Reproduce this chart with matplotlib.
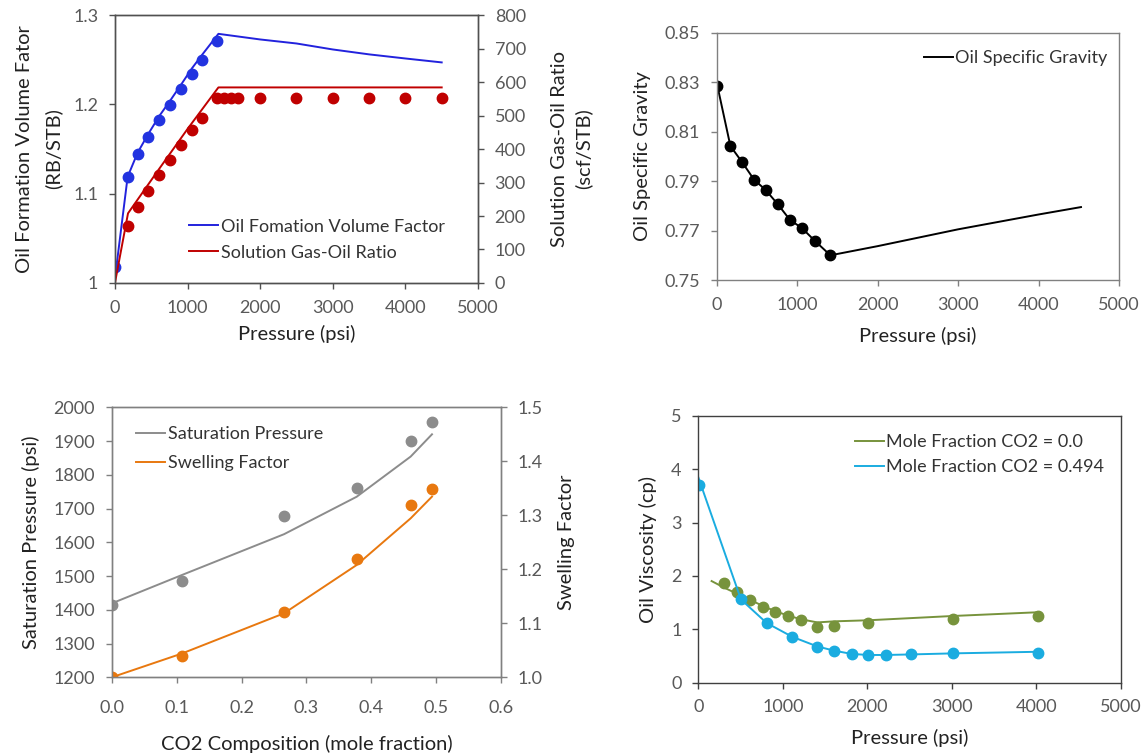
import numpy as np
import matplotlib
matplotlib.use("Agg")
import matplotlib.pyplot as plt

plt.rcParams['font.family'] = ['Lato', 'DejaVu Sans']

TICK_GRAY = '#595959'
SPINE = '#505050'
LABEL_FS = 14.5
TICK_FS = 13
LEG_FS = 13

# ---------------------------------------
# Panel 1: Bo and Rs vs pressure
# ---------------------------------------
bo_p = [0, 175, 313, 460, 611, 759, 910, 1057, 1205, 1402]
bo_val = [1.018, 1.119, 1.144, 1.164, 1.183, 1.199, 1.217, 1.234, 1.250, 1.271]
bo_line_p = [0, 175, 313, 460, 611, 759, 910, 1057, 1205, 1425, 2000, 2500, 3000, 3500, 4000, 4500]
bo_line = [1.005, 1.119, 1.146, 1.167, 1.187, 1.204, 1.222, 1.240, 1.256, 1.279,
           1.2727, 1.2682, 1.2615, 1.256, 1.2514, 1.247]

rs_p = [175, 313, 460, 611, 759, 910, 1057, 1205, 1400, 1500, 1600, 1700,
        2000, 2500, 3000, 3500, 4000, 4500]
rs_val = [170, 228, 275, 321, 368, 412, 457, 492, 551, 551, 551, 551,
          551, 551, 551, 551, 551, 551]
rs_line_p = [0, 180, 600, 1000, 1425, 4500]
rs_line = [0, 208, 338, 460, 584, 584]

# ---------------------------------------
# Panel 2: oil specific gravity
# ---------------------------------------
sg_p = [8, 170, 315, 464, 609, 758, 911, 1060, 1218, 1413]
sg_val = [0.8286, 0.8042, 0.7977, 0.7906, 0.7864, 0.7807, 0.7743, 0.7710, 0.7659, 0.7600]
sg_line_p = [8, 170, 315, 464, 609, 758, 911, 1060, 1218, 1413, 2000, 3000, 4000, 4528]
sg_line = [0.8286, 0.8042, 0.7977, 0.7906, 0.7864, 0.7807, 0.7743, 0.7710, 0.7659, 0.7600,
           0.7637, 0.7705, 0.7765, 0.7795]

# ---------------------------------------
# Panel 3: saturation pressure and swelling factor vs CO2
# ---------------------------------------
co2_x = [0.0, 0.108, 0.2655, 0.3775, 0.4607, 0.4936]
psat_val = [1414, 1486, 1678, 1762, 1900, 1955]
psat_line = [1419, 1503, 1624, 1735, 1854, 1920]
swell_val = [1.0, 1.0395, 1.121, 1.2185, 1.320, 1.3488]
swell_line = [1.0, 1.044, 1.1185, 1.208, 1.2944, 1.3346]

# ---------------------------------------
# Panel 4: oil viscosity
# ---------------------------------------
mu0_p = [308, 461, 611, 761, 911, 1057, 1211, 1408, 1609, 2011, 3009, 4014]
mu0_val = [1.873, 1.692, 1.548, 1.423, 1.323, 1.248, 1.174, 1.049, 1.061, 1.124, 1.192, 1.255]
mu0_line_p = [158, 308, 461, 611, 761, 911, 1057, 1211, 1408, 1609, 2011, 3009, 4014]
mu0_line = [1.904, 1.78, 1.665, 1.555, 1.44, 1.34, 1.26, 1.19, 1.13, 1.15, 1.17, 1.25, 1.32]

mu1_p = [8, 505, 808, 1112, 1408, 1609, 1814, 2011, 2216, 2512, 3009, 4014]
mu1_val = [3.70, 1.56, 1.111, 0.849, 0.674, 0.599, 0.537, 0.512, 0.512, 0.537, 0.549, 0.562]
mu1_line_p = [0, 505, 808, 1112, 1408, 1609, 1814, 2011, 2216, 2512, 3009, 4014]
mu1_line = [3.85, 1.56, 1.12, 0.86, 0.68, 0.60, 0.54, 0.52, 0.52, 0.53, 0.55, 0.58]


def style_axes(ax, spine_color=SPINE):
    for s in ax.spines.values():
        s.set_color(spine_color)
        s.set_linewidth(1.0)
    ax.tick_params(direction='out', length=4, width=1.0, colors=spine_color,
                   labelcolor=TICK_GRAY, labelsize=TICK_FS, pad=8)


def legend(ax, handles, labels, anchor, spacing=0.35):
    ax.legend(handles, labels, loc='upper left', bbox_to_anchor=anchor,
              frameon=False, fontsize=LEG_FS, handlelength=1.6, handletextpad=0.15,
              labelspacing=spacing, borderaxespad=0, borderpad=0, labelcolor='#333333')


def main():
    fig = plt.figure(figsize=(11.46, 7.54), dpi=100)

    # ---- panel 1
    ax1 = fig.add_axes([0.1003, 0.6247, 0.3168, 0.3553])
    ax1b = ax1.twinx()
    ax1.plot(bo_line_p, bo_line, color='#2222DD', lw=1.4, label='Oil Fomation Volume Factor')
    ax1.plot(bo_p, bo_val, 'o', color='#2233E0', ms=7.5, zorder=3)
    ax1b.plot(rs_line_p, rs_line, color='#C00000', lw=1.4, label='Solution Gas-Oil Ratio')
    ax1b.plot(rs_p, rs_val, 'o', color='#C00000', ms=7.5, zorder=3)
    ax1.set_xlim(0, 5000)
    ax1.set_ylim(1.0, 1.3)
    ax1.set_yticks([1.0, 1.1, 1.2, 1.3])
    ax1.set_yticklabels(['1', '1.1', '1.2', '1.3'])
    ax1b.set_ylim(0, 800)
    ax1b.set_yticks(range(0, 801, 100))
    ax1.set_xticks(range(0, 5001, 1000))
    style_axes(ax1)
    style_axes(ax1b)
    ax1.set_xlabel('Pressure (psi)', fontsize=LABEL_FS, color='#222222', labelpad=7)
    ax1.set_ylabel('Oil Formation Volume Fator\n(RB/STB)', fontsize=LABEL_FS, color='#222222',
                   labelpad=8, linespacing=1.75)
    ax1b.set_ylabel('Solution Gas-Oil Ratio\n(scf/STB)', fontsize=LABEL_FS, color='#222222',
                    labelpad=18, linespacing=1.45)
    h1, l1 = ax1.get_legend_handles_labels()
    h2, l2 = ax1b.get_legend_handles_labels()
    legend(ax1b, h1 + h2, l1 + l2, (0.205, 0.24), spacing=0.55)

    # ---- panel 2
    ax2 = fig.add_axes([0.6254, 0.6286, 0.351, 0.328])
    ax2.plot(sg_line_p, sg_line, color='black', lw=1.4, label='Oil Specific Gravity')
    ax2.plot(sg_p, sg_val, 'o', color='black', ms=7.5)
    ax2.set_xlim(0, 5000)
    ax2.set_ylim(0.75, 0.85)
    ax2.set_yticks([0.75, 0.77, 0.79, 0.81, 0.83, 0.85])
    ax2.set_xticks(range(0, 5001, 1000))
    style_axes(ax2, '#808080')
    ax2.set_xlabel('Pressure (psi)', fontsize=LABEL_FS, color='#222222', labelpad=10)
    ax2.set_ylabel('Oil Specific Gravity', fontsize=LABEL_FS, color='#222222', labelpad=10)
    h, l = ax2.get_legend_handles_labels()
    legend(ax2, h, l, (0.515, 0.93))

    # ---- panel 3
    ax3 = fig.add_axes([0.0975, 0.1017, 0.3397, 0.3581])
    ax3b = ax3.twinx()
    ax3.plot(co2_x, psat_line, color='#8C8C8C', lw=1.4, label='Saturation Pressure')
    ax3.plot(co2_x, psat_val, 'o', color='#8C8C8C', ms=7.5)
    ax3b.plot(co2_x, swell_line, color='#E8780F', lw=1.4, label='Swelling Factor')
    ax3b.plot(co2_x, swell_val, 'o', color='#E8780F', ms=7.5)
    ax3.set_xlim(0, 0.6)
    ax3.set_xticks(np.arange(0, 0.61, 0.1))
    ax3.set_xticklabels(['0.0', '0.1', '0.2', '0.3', '0.4', '0.5', '0.6'])
    ax3.set_ylim(1200, 2000)
    ax3.set_yticks(range(1200, 2001, 100))
    ax3b.set_ylim(1.0, 1.5)
    ax3b.set_yticks([1.0, 1.1, 1.2, 1.3, 1.4, 1.5])
    ax3b.set_yticklabels(['1.0', '1.1', '1.2', '1.3', '1.4', '1.5'])
    style_axes(ax3, '#808080')
    style_axes(ax3b, '#808080')
    ax3.tick_params(axis='x', pad=12)
    ax3.set_xlabel('CO2 Composition (mole fraction)', fontsize=LABEL_FS, color='#222222', labelpad=14)
    ax3.set_ylabel('Saturation Pressure (psi)', fontsize=LABEL_FS, color='#222222', labelpad=10)
    ax3b.set_ylabel('Swelling Factor', fontsize=LABEL_FS, color='#222222', labelpad=11)
    h1, l1 = ax3.get_legend_handles_labels()
    h2, l2 = ax3b.get_legend_handles_labels()
    legend(ax3b, h1 + h2, l1 + l2, (0.063, 0.93), spacing=0.7)

    # ---- panel 4
    ax4 = fig.add_axes([0.6093, 0.0945, 0.3689, 0.3541])
    ax4.plot(mu0_line_p, mu0_line, color='#77933C', lw=1.4, label='Mole Fraction CO2 = 0.0')
    ax4.plot(mu0_p, mu0_val, 'o', color='#77933C', ms=7.5)
    ax4.plot(mu1_line_p, mu1_line, color='#1AACE0', lw=1.4, label='Mole Fraction CO2 = 0.494')
    ax4.plot(mu1_p, mu1_val, 'o', color='#1AACE0', ms=7.5)
    ax4.set_xlim(0, 5000)
    ax4.set_ylim(0, 5)
    ax4.set_xticks(range(0, 5001, 1000))
    ax4.set_yticks(range(0, 6))
    style_axes(ax4, '#404040')
    ax4.set_xlabel('Pressure (psi)', fontsize=LABEL_FS, color='#222222', labelpad=10)
    ax4.set_ylabel('Oil Viscosity (cp)', fontsize=LABEL_FS, color='#222222', labelpad=10)
    h, l = ax4.get_legend_handles_labels()
    legend(ax4, h, l, (0.37, 0.93), spacing=0.5)

    fig.savefig('out.png', dpi=100)


if __name__ == "__main__":
    main()
